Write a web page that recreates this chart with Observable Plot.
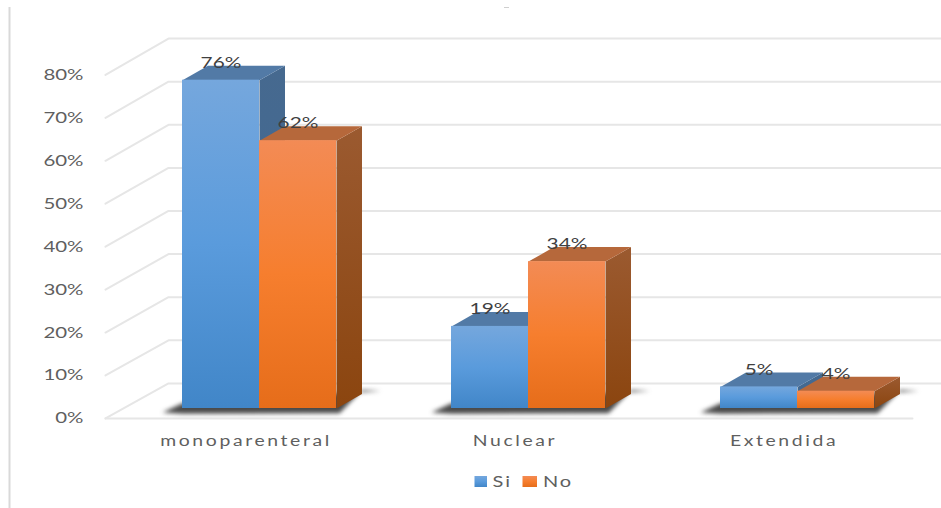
<!DOCTYPE html>
<html>
<head>
<meta charset="utf-8">
<script src="https://cdn.jsdelivr.net/npm/d3@7"></script>
<script src="https://cdn.jsdelivr.net/npm/@observablehq/plot@0.6"></script>
<style>
  html, body { margin: 0; padding: 0; background: #fff; }
  svg { display: block; }
</style>
</head>
<body>
<div id="chart"></div>
<script>
// Family type by answer (share of respondents)
const categories = ["monoparenteral", "Nuclear", "Extendida"];
const seriesSi = [76, 19, 5];
const seriesNo = [62, 34, 4];
const seriesNames = ["Si", "No"];
const yTicks = [0, 10, 20, 30, 40, 50, 60, 70, 80];

// Scale set-up: x is measured in category steps, y in percentage points
const W = 941, H = 508;
const stepPx = 269, pctPx = 4.32, originX = 259, originY = 408;
const ux = px => (px - originX) / stepPx;
const uy = py => (originY - py) / pctPx;

// Oblique projection of the box: how far the depth axis shifts each kind of shape
const barW = 77 / stepPx;
const barDX = 25.5 / stepPx, barDY = 14.5 / pctPx;
const wallLeft = ux(105), wallBack = ux(168), wallRight = ux(941), floorRight = ux(912);
const frontY = v => -2.3 + v * 0.994;
const backY = v => 5.8 + v * 0.998;

const FONT = "Lato, 'Open Sans', sans-serif";

// Widens the glyphs of a text mark and spreads its letters
const wideText = (sx, spacing) => (index, scales, values, dims, ctx, next) => {
  const g = next(index, scales, values, dims, ctx);
  d3.select(g).selectAll("text")
    .style("letter-spacing", spacing + "px")
    .attr("transform", function () {
      return (this.getAttribute("transform") || "") + ` scale(${sx},1)`;
    });
  return g;
};

// Flat tables derived from the value arrays
const bars = categories.flatMap((c, i) => [
  {c, i, s: "Si", v: seriesSi[i], x1: i - barW, x2: i},
  {c, i, s: "No", v: seriesNo[i], x1: i, x2: i + barW}
]);

const sidePoly = b => [
  {id: b.c + b.s, x: b.x2, y: 0},
  {id: b.c + b.s, x: b.x2 + barDX, y: barDY},
  {id: b.c + b.s, x: b.x2 + barDX, y: b.v + barDY},
  {id: b.c + b.s, x: b.x2, y: b.v}
];
const topPoly = b => [
  {id: b.c + b.s, x: b.x1, y: b.v},
  {id: b.c + b.s, x: b.x2, y: b.v},
  {id: b.c + b.s, x: b.x2 + barDX, y: b.v + barDY},
  {id: b.c + b.s, x: b.x1 + barDX, y: b.v + barDY}
];
const shadowPoly = categories.flatMap((c, i) => {
  const l = i - barW, r = i + barW;
  return [
    {id: c, x: l - 20 / stepPx, y: -0.9},
    {id: c, x: l, y: 1.2},
    {id: c, x: r + barDX + 19 / stepPx, y: barDY + 0.7},
    {id: c, x: r + barDX, y: barDY + 0.9},
    {id: c, x: r + 3 / stepPx, y: -1.1},
    {id: c, x: l, y: -1.2}
  ];
});

const gridLines = yTicks.flatMap(v => [
  {v, x: wallLeft, y: frontY(v)},
  {v, x: wallBack, y: backY(v)},
  {v, x: wallRight, y: backY(v)}
]);
const floorLine = [{x: wallLeft, y: frontY(0)}, {x: floorRight, y: frontY(0)}];

const defs = () => d3.create("svg:defs").html(`
  <linearGradient id="frontSi" x1="0" y1="0" x2="0" y2="1">
    <stop offset="0" stop-color="#75a7dd"/><stop offset="0.5" stop-color="#5a9bdc"/><stop offset="1" stop-color="#4186c8"/>
  </linearGradient>
  <linearGradient id="frontNo" x1="0" y1="0" x2="0" y2="1">
    <stop offset="0" stop-color="#f38b55"/><stop offset="0.5" stop-color="#f67e2e"/><stop offset="1" stop-color="#e66d1a"/>
  </linearGradient>
  <linearGradient id="sideSi" x1="0" y1="0" x2="0" y2="1">
    <stop offset="0" stop-color="#46698f"/><stop offset="1" stop-color="#3f6a96"/>
  </linearGradient>
  <linearGradient id="sideNo" x1="0" y1="0" x2="0" y2="1">
    <stop offset="0" stop-color="#9b5a30"/><stop offset="1" stop-color="#8b450f"/>
  </linearGradient>
`).node();

const barLayers = s => {
  const rows = bars.filter(b => b.s === s);
  return [
    Plot.line(rows.flatMap(sidePoly), {x: "x", y: "y", z: "id", fill: `url(#side${s})`, stroke: "none", curve: "linear-closed"}),
    Plot.line(rows.flatMap(topPoly), {x: "x", y: "y", z: "id", fill: s === "Si" ? "#527aa6" : "#b6683b", stroke: "none", curve: "linear-closed"}),
    Plot.rect(rows, {x1: "x1", x2: "x2", y1: 0, y2: "v", fill: `url(#front${s})`})
  ];
};

const legendItems = [
  {name: seriesNames[0], x1: ux(474.5), x2: ux(487), text: ux(492)},
  {name: seriesNames[1], x1: ux(522.5), x2: ux(537), text: ux(542.5)}
];

const chart = Plot.plot({
  width: W,
  height: H,
  margin: 0,
  style: {background: "#fff", overflow: "hidden"},
  x: {domain: [ux(0), ux(W)], range: [0, W], axis: null},
  y: {domain: [uy(H), uy(0)], range: [H, 0], axis: null},
  marks: [
    defs,
    // Outer chart border and the short dash near its top edge
    Plot.ruleX([ux(9)], {y1: uy(7), y2: uy(H), stroke: "#d9d9d9", strokeWidth: 2}),
    Plot.ruleY([uy(7)], {x1: ux(504), x2: ux(509), stroke: "#cfcfcf", strokeWidth: 1}),
    // Side wall and back wall gridlines
    Plot.line(gridLines, {x: "x", y: "y", z: "v", stroke: "#e6e6e6", strokeWidth: 2}),
    Plot.line(floorLine, {x: "x", y: "y", stroke: "#e6e6e6", strokeWidth: 2}),
    // Floor shadow under each group
    Plot.line(shadowPoly, {x: "x", y: "y", z: "id", fill: "#4a4a4a", stroke: "none", curve: "linear-closed", imageFilter: "blur(2px)"}),
    ...barLayers("Si"),
    ...barLayers("No"),
    // Percentage axis labels
    Plot.text(yTicks, {
      x: ux(83), y: frontY, text: d => `${d}%`, textAnchor: "end",
      fontFamily: FONT, fontSize: 15.5, fill: "#5f5f5f", render: wideText(1.32, 0)
    }),
    // Category labels
    Plot.text(categories, {
      x: (d, i) => i - 0.05, y: uy(441), text: d => d,
      fontFamily: FONT, fontSize: 15.5, fill: "#5f5f5f", render: wideText(1.25, 2.1)
    }),
    // Value labels
    Plot.text(bars, {
      x: d => (d.x1 + d.x2) / 2, y: "v", dy: -17.5, text: d => `${d.v}%`,
      fontFamily: FONT, fontSize: 16, fill: "#404040", render: wideText(1.3, 0)
    }),
    // Legend
    Plot.rect(legendItems, {x1: "x1", x2: "x2", y1: uy(487), y2: uy(476), fill: d => `url(#front${d.name})`}),
    Plot.text(legendItems, {
      x: "text", y: uy(481), text: "name", textAnchor: "start",
      fontFamily: FONT, fontSize: 16, fill: "#5f5f5f", render: wideText(1.25, 1.5)
    })
  ]
});
document.getElementById("chart").append(chart);
</script>
</body>
</html>
